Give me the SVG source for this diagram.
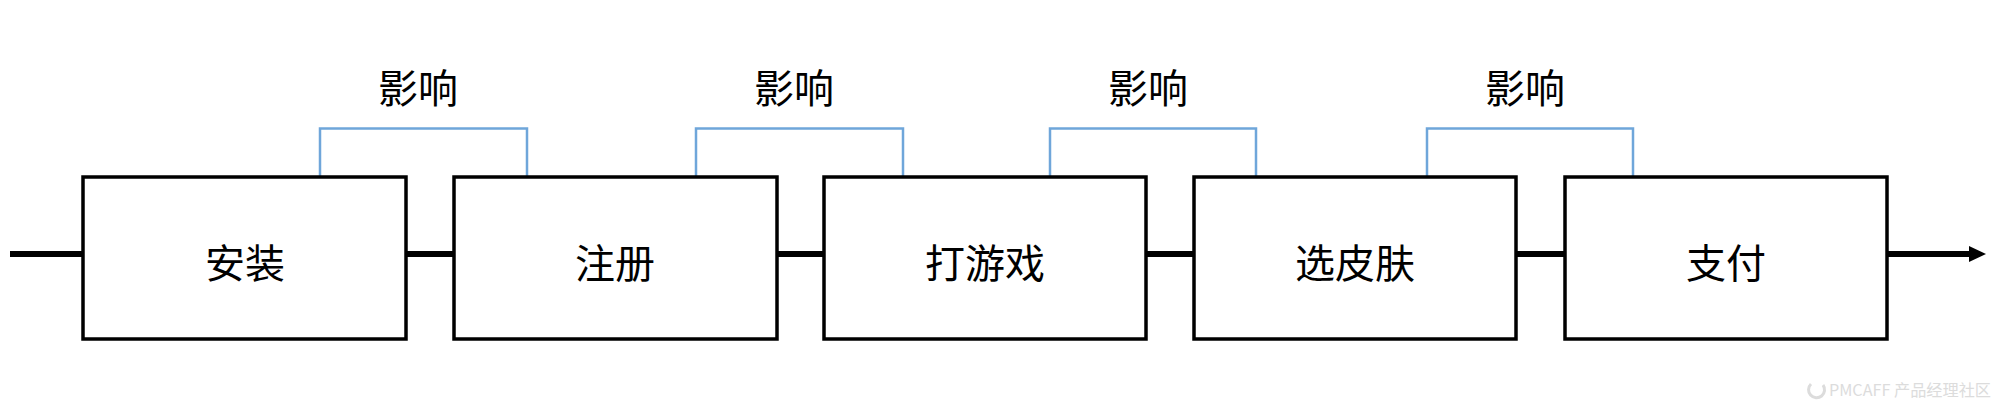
<svg xmlns="http://www.w3.org/2000/svg" width="2000" height="411" viewBox="0 0 2000 411">
<style>
.box{fill:#fff;stroke:#000;stroke-width:3.5}
.lbl{font-family:"Noto Sans CJK SC","Noto Sans",sans-serif;font-size:40px;fill:#000;text-anchor:middle;dominant-baseline:central}
.br{fill:none;stroke:#6fa6da;stroke-width:2.5}
.ln{stroke:#000;stroke-width:6;fill:none}
.wm{font-family:"Noto Sans CJK SC","Liberation Sans",sans-serif;font-size:16px;fill:#dcdcdc}
</style>
<g id="connectors">
<line class="ln" x1="10" y1="254" x2="83" y2="254"/>
<line class="ln" x1="406" y1="254" x2="454" y2="254"/>
<line class="ln" x1="777" y1="254" x2="824" y2="254"/>
<line class="ln" x1="1146" y1="254" x2="1194" y2="254"/>
<line class="ln" x1="1516" y1="254" x2="1565" y2="254"/>
<line class="ln" x1="1887" y1="254" x2="1972" y2="254"/>
<polygon points="1969,246 1986,254 1969,262" fill="#000"/>
<path class="br" d="M320,176 V128.5 H527 V176"/>
<path class="br" d="M696,176 V128.5 H903 V176"/>
<path class="br" d="M1050,176 V128.5 H1256 V176"/>
<path class="br" d="M1427,176 V128.5 H1633 V176"/>
</g>
<g id="label1"><text class="lbl" x="418" y="86">影响</text></g>
<g id="label2"><text class="lbl" x="794" y="86">影响</text></g>
<g id="label3"><text class="lbl" x="1148" y="86">影响</text></g>
<g id="label4"><text class="lbl" x="1525" y="86">影响</text></g>
<g id="n1"><rect class="box" x="83" y="177" width="323" height="162"/><text class="lbl" x="245" y="261">安装</text></g>
<g id="n2"><rect class="box" x="454" y="177" width="323" height="162"/><text class="lbl" x="615" y="261">注册</text></g>
<g id="n3"><rect class="box" x="824" y="177" width="322" height="162"/><text class="lbl" x="985" y="261">打游戏</text></g>
<g id="n4"><rect class="box" x="1194" y="177" width="322" height="162"/><text class="lbl" x="1355" y="261">选皮肤</text></g>
<g id="n5"><rect class="box" x="1565" y="177" width="322" height="162"/><text class="lbl" x="1726" y="261">支付</text></g>
<g id="watermark">
<path d="M1811,384 A8,8 0 1 0 1823,385" fill="none" stroke="#dcdcdc" stroke-width="3"/>
<text class="wm" x="1829" y="396" textLength="162" lengthAdjust="spacingAndGlyphs">PMCAFF 产品经理社区</text>
</g>
</svg>
